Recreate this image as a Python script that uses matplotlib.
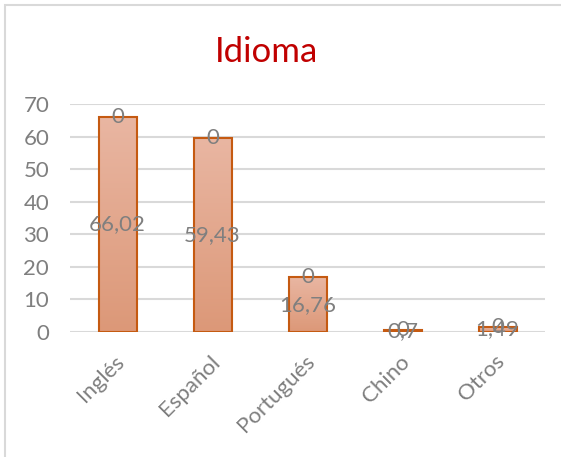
import matplotlib
matplotlib.use("Agg")
import matplotlib.pyplot as plt
import numpy as np
from matplotlib.patches import Rectangle
from matplotlib.colors import LinearSegmentedColormap
import matplotlib.transforms as mtransforms

categories = ["Inglés", "Español", "Portugués", "Chino", "Otros"]
values = [66.02, 59.43, 16.76, 0.7, 1.49]
second_series = [0, 0, 0, 0, 0]
yticks = [0, 10, 20, 30, 40, 50, 60, 70]
title = "Idioma"

plt.rcParams['font.family'] = ['Lato', 'DejaVu Sans']
gray = "#7f7f7f"

fig = plt.figure(figsize=(5.61, 4.57), dpi=100)
W, H = 561, 457
ax = fig.add_axes([70 / W, 1 - 332 / H, 475 / W, 228 / H])

# chart border
fig.add_artist(Rectangle((5 / W, -0.1), 1.2, 1.1 - 5 / H, transform=fig.transFigure,
                         fill=False, edgecolor="#d9d9d9", linewidth=1.5))

x = np.arange(len(categories))
bars = ax.bar(x, values, width=0.4, color="none", edgecolor="#c55a11", linewidth=1.5, zorder=3)

grad = np.linspace(0, 1, 256).reshape(-1, 1)
cmap = LinearSegmentedColormap.from_list("g", ["#dc9878", "#e9b6a2"])
for b in bars:
    x0, w, h = b.get_x(), b.get_width(), b.get_height()
    im = ax.imshow(grad, extent=(x0, x0 + w, 0, h), origin="lower", cmap=cmap,
                   aspect="auto", zorder=2)
    im.set_clip_path(b)

ax.set_xlim(-0.5, len(categories) - 0.5)
ax.set_ylim(0, 70)
ax.set_yticks(yticks)
ax.set_yticklabels([str(t) for t in yticks])
ax.set_xticks(x)
ax.set_xticklabels(categories, rotation=45, ha="right", rotation_mode="anchor")
ax.tick_params(axis="both", length=0, labelsize=16, colors=gray)
ax.tick_params(axis="y", pad=15)
ax.tick_params(axis="x", pad=14)
offset = mtransforms.ScaledTranslation(-3 / 100, 0, fig.dpi_scale_trans)
for lbl in ax.get_xticklabels():
    lbl.set_transform(lbl.get_transform() + offset)
ax.grid(axis="y", color="#d9d9d9", linewidth=1.5, zorder=0)
ax.set_axisbelow(True)
for s in ax.spines.values():
    s.set_visible(False)

for xi, v, z in zip(x, values, second_series):
    ax.text(xi, v / 2, f"{v:g}".replace(".", ","), ha="center", va="center",
            fontsize=16, color=gray, zorder=5)
    ax.text(xi, v + z, f"{z:g}", ha="center", va="center",
            fontsize=16, color=gray, zorder=5)

fig.text(267 / W, 1 - 52 / H, title, ha="center", va="center", fontsize=25, color="#c00000")

fig.savefig("out.png", dpi=100)
